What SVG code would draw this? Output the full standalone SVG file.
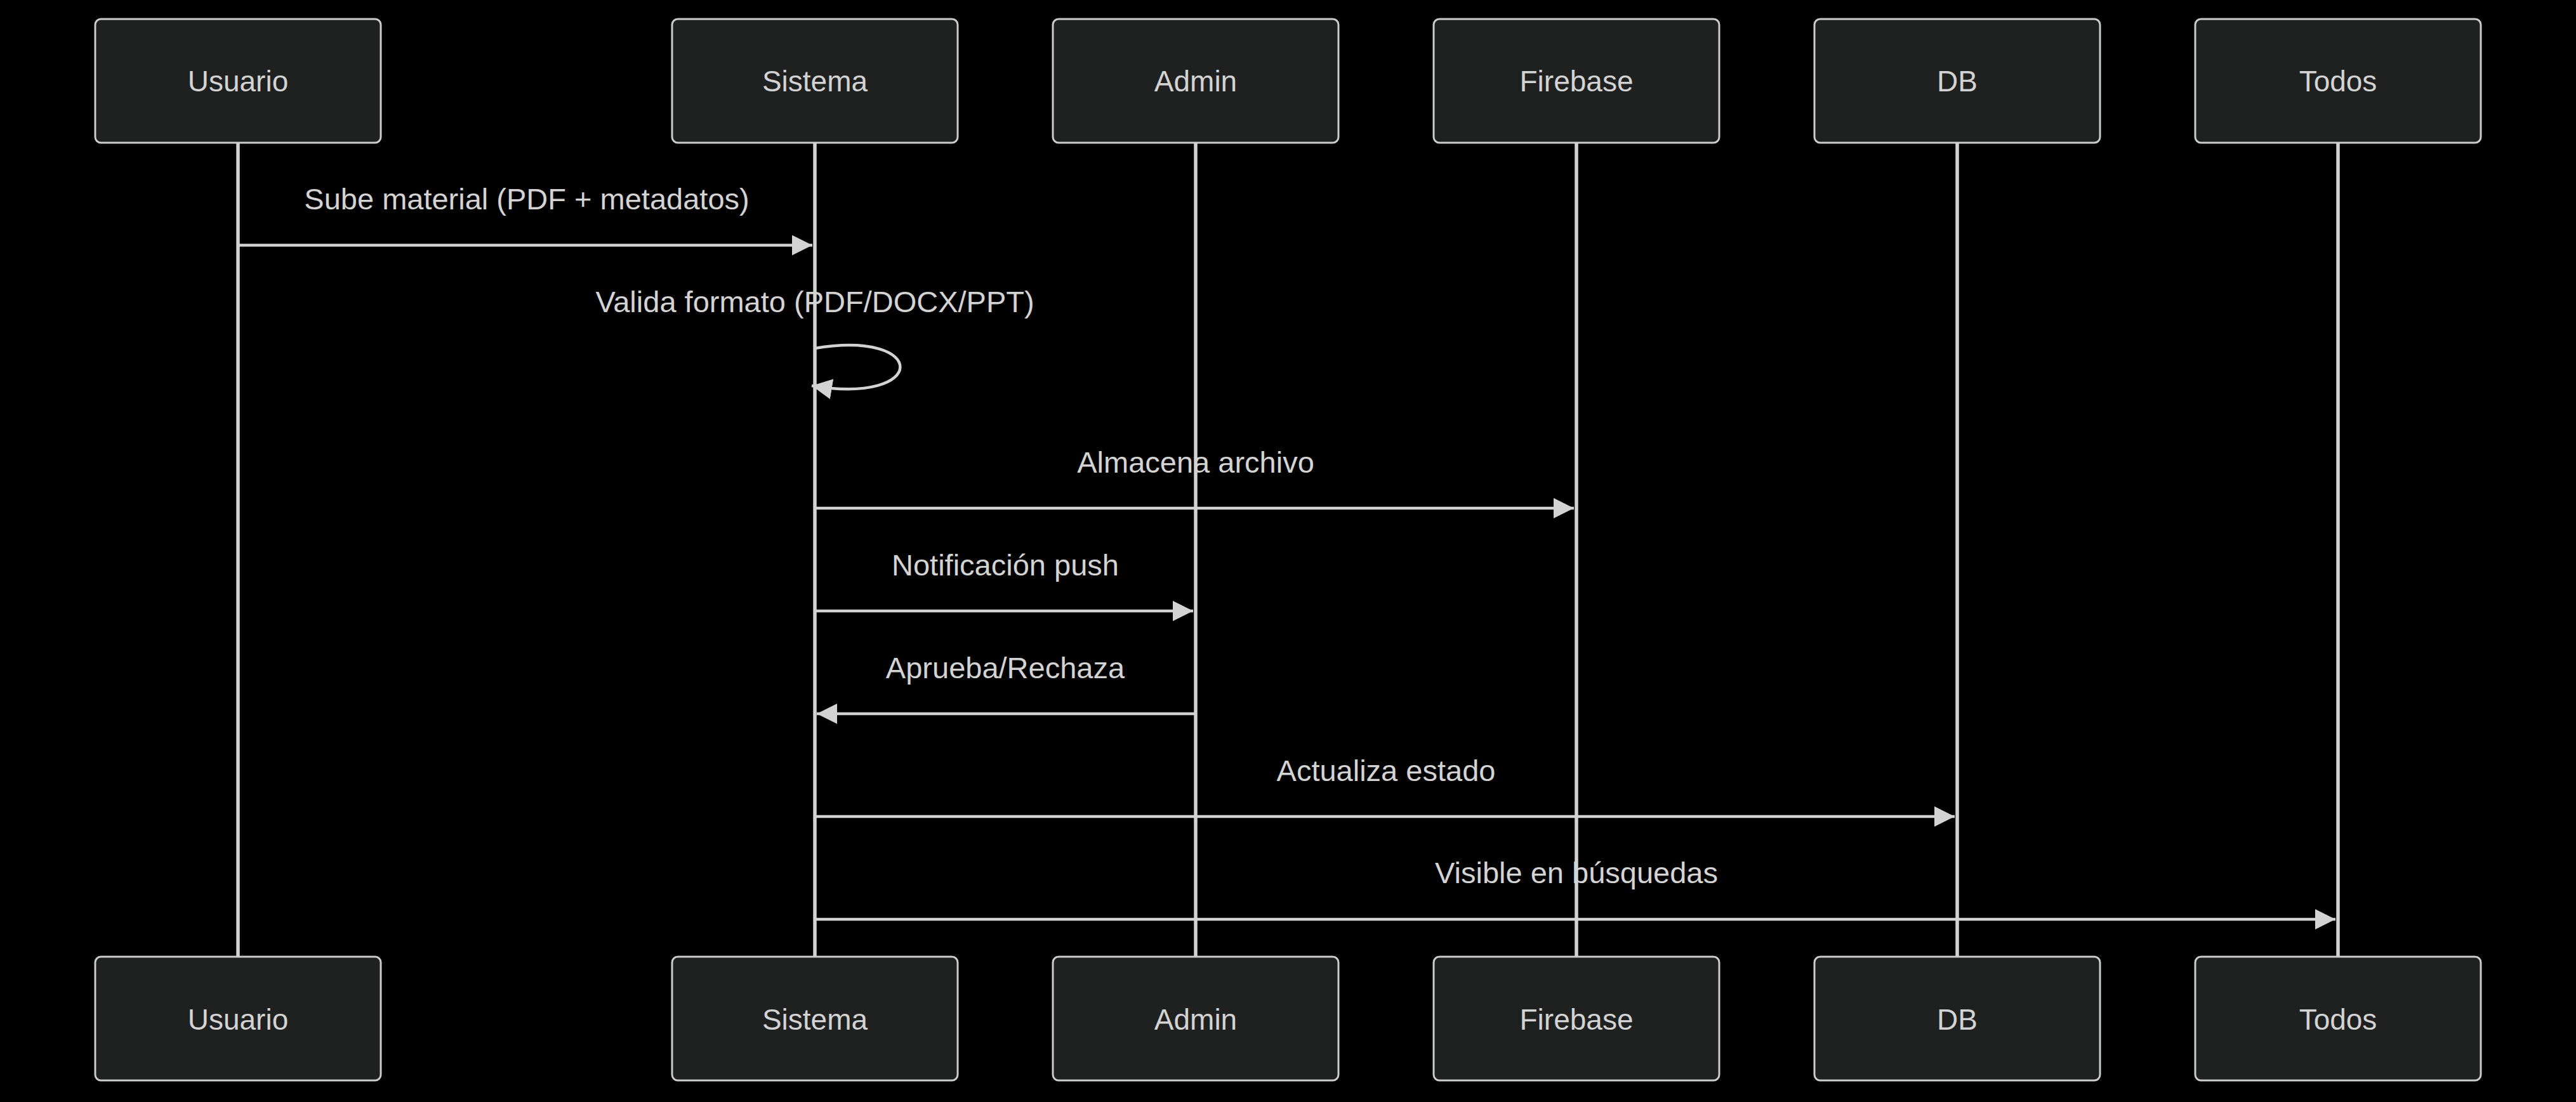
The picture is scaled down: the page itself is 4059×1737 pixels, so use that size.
<svg xmlns="http://www.w3.org/2000/svg" width="4059" height="1737" viewBox="0 0 4059 1737">
<style>
.actor rect{fill:#1f2020;stroke:#cccccc;stroke-width:3}
.actor text{fill:#d3d3d3;font-family:"Liberation Sans",Arial,sans-serif;font-size:46px;text-anchor:middle}
.msg{stroke:#d3d3d3;stroke-width:4.5;fill:none}
.lbl{fill:#d3d3d3;font-family:"Liberation Sans",Arial,sans-serif;font-size:47px;text-anchor:middle}
.life{stroke:#d3d3d3;stroke-width:5.5}
</style>
<defs>
<marker id="ah" viewBox="0 0 10 10" refX="10" refY="5" markerWidth="32" markerHeight="32" markerUnits="userSpaceOnUse" orient="auto">
<path d="M0,0 L10,5 L0,10 z" fill="#d3d3d3"/>
</marker>
</defs>
<rect width="4059" height="1737" fill="#000"/>
<g id="actors-top">
<g id="usuario-top" class="actor"><rect x="150" y="30" width="450" height="195" rx="9"/><text x="375" y="144">Usuario</text></g>
<g id="sistema-top" class="actor"><rect x="1059" y="30" width="450" height="195" rx="9"/><text x="1284" y="144">Sistema</text></g>
<g id="admin-top" class="actor"><rect x="1659" y="30" width="450" height="195" rx="9"/><text x="1884" y="144">Admin</text></g>
<g id="firebase-top" class="actor"><rect x="2259" y="30" width="450" height="195" rx="9"/><text x="2484" y="144">Firebase</text></g>
<g id="db-top" class="actor"><rect x="2859" y="30" width="450" height="195" rx="9"/><text x="3084" y="144">DB</text></g>
<g id="todos-top" class="actor"><rect x="3459" y="30" width="450" height="195" rx="9"/><text x="3684" y="144">Todos</text></g>
</g>
<g id="connectors">
<text class="lbl" x="830" y="330">Sube material (PDF + metadatos)</text>
<line class="msg" x1="375" y1="386.5" x2="1280" y2="386.5" marker-end="url(#ah)"/>
<text class="lbl" x="1284" y="491.5">Valida formato (PDF/DOCX/PPT)</text>
<path class="msg" d="M1284,549 C1464,519 1464,639 1279,608" marker-end="url(#ah)"/>
<text class="lbl" x="1884" y="745">Almacena archivo</text>
<line class="msg" x1="1284" y1="801" x2="2480" y2="801" marker-end="url(#ah)"/>
<text class="lbl" x="1584" y="907">Notificación push</text>
<line class="msg" x1="1284" y1="963" x2="1880" y2="963" marker-end="url(#ah)"/>
<text class="lbl" x="1584" y="1069">Aprueba/Rechaza</text>
<line class="msg" x1="1884" y1="1125" x2="1287" y2="1125" marker-end="url(#ah)"/>
<text class="lbl" x="2184" y="1231">Actualiza estado</text>
<line class="msg" x1="1284" y1="1287" x2="3080" y2="1287" marker-end="url(#ah)"/>
<text class="lbl" x="2484" y="1392">Visible en búsquedas</text>
<line class="msg" x1="1284" y1="1449" x2="3680" y2="1449" marker-end="url(#ah)"/>
</g>
<g id="lifelines">
<line class="life" x1="375" y1="225" x2="375" y2="1508"/>
<line class="life" x1="1284" y1="225" x2="1284" y2="1508"/>
<line class="life" x1="1884" y1="225" x2="1884" y2="1508"/>
<line class="life" x1="2484" y1="225" x2="2484" y2="1508"/>
<line class="life" x1="3084" y1="225" x2="3084" y2="1508"/>
<line class="life" x1="3684" y1="225" x2="3684" y2="1508"/>
</g>
<g id="actors-bottom">
<g id="usuario-bottom" class="actor"><rect x="150" y="1508" width="450" height="195" rx="9"/><text x="375" y="1623">Usuario</text></g>
<g id="sistema-bottom" class="actor"><rect x="1059" y="1508" width="450" height="195" rx="9"/><text x="1284" y="1623">Sistema</text></g>
<g id="admin-bottom" class="actor"><rect x="1659" y="1508" width="450" height="195" rx="9"/><text x="1884" y="1623">Admin</text></g>
<g id="firebase-bottom" class="actor"><rect x="2259" y="1508" width="450" height="195" rx="9"/><text x="2484" y="1623">Firebase</text></g>
<g id="db-bottom" class="actor"><rect x="2859" y="1508" width="450" height="195" rx="9"/><text x="3084" y="1623">DB</text></g>
<g id="todos-bottom" class="actor"><rect x="3459" y="1508" width="450" height="195" rx="9"/><text x="3684" y="1623">Todos</text></g>
</g>
</svg>
